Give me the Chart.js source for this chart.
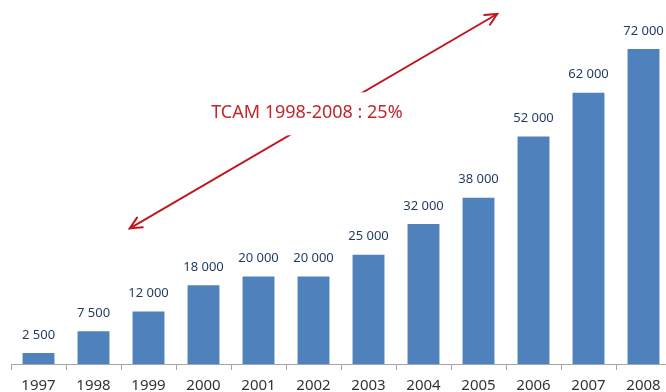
<!DOCTYPE html>
<html>
<head>
<meta charset="utf-8">
<script src="https://cdn.jsdelivr.net/npm/chart.js@4/dist/chart.umd.min.js"></script>
<style>
    html, body { margin: 0; padding: 0; background: #fff; overflow: hidden; }
    #wrap { position: relative; width: 672px; height: 392px; }
</style>
</head>
<body>
<div id="wrap"><canvas id="tcamChart"></canvas></div>
<script>
// Years and values
const years = ['1997', '1998', '1999', '2000', '2001', '2002', '2003', '2004', '2005', '2006', '2007', '2008'];
const values = [2500, 7500, 12000, 18000, 20000, 20000, 25000, 32000, 38000, 52000, 62000, 72000];

// Trend arrow, in data units (category index, value)
const arrowFrom = { x: 1.66, y: 31000 };
const arrowTo = { x: 8.34, y: 80000 };
const arrowText = 'TCAM 1998-2008 : 25%';
const arrowTextAt = { x: 4.88, y: 57300 };

// "2 500" style with a space as thousands separator
function formatValue(v) {
    return String(v).replace(/\B(?=(\d{3})+(?!\d))/g, ' ');
}

const fontFamily = "'Noto Sans', 'Open Sans', sans-serif";

// Value labels above each bar
const valueLabelPlugin = {
    id: 'valueLabels',
    afterDatasetsDraw(chart) {
        const ctx = chart.ctx;
        const meta = chart.getDatasetMeta(0);
        ctx.save();
        ctx.font = '13px ' + fontFamily;
        ctx.fillStyle = '#1F3A5F';
        ctx.textAlign = 'center';
        ctx.textBaseline = 'middle';
        meta.data.forEach((bar, i) => {
            ctx.fillText(formatValue(values[i]), bar.x, bar.y - 18);
        });
        ctx.restore();
    }
};

// Double-headed red arrow with the growth text (text sits on a white box cutting the line)
const trendArrowPlugin = {
    id: 'trendArrow',
    afterDraw(chart) {
        const ctx = chart.ctx;
        const xs = chart.scales.x, ys = chart.scales.y;
        const x1 = xs.getPixelForValue(arrowFrom.x), y1 = ys.getPixelForValue(arrowFrom.y);
        const x2 = xs.getPixelForValue(arrowTo.x), y2 = ys.getPixelForValue(arrowTo.y);
        ctx.save();
        ctx.strokeStyle = '#C0161E';
        ctx.lineWidth = 2;
        ctx.lineCap = 'round';
        ctx.beginPath();
        ctx.moveTo(x1, y1);
        ctx.lineTo(x2, y2);
        ctx.stroke();

        function head(tx, ty, fx, fy) {
            const ang = Math.atan2(ty - fy, tx - fx);
            const len = 13, spread = 0.45;
            ctx.beginPath();
            ctx.moveTo(tx - len * Math.cos(ang - spread), ty - len * Math.sin(ang - spread));
            ctx.lineTo(tx, ty);
            ctx.lineTo(tx - len * Math.cos(ang + spread), ty - len * Math.sin(ang + spread));
            ctx.stroke();
        }
        head(x1, y1, x2, y2);
        head(x2, y2, x1, y1);

        const tx = xs.getPixelForValue(arrowTextAt.x), ty = ys.getPixelForValue(arrowTextAt.y);
        ctx.font = '18px ' + fontFamily;
        const w = ctx.measureText(arrowText).width;
        ctx.fillStyle = '#ffffff';
        ctx.fillRect(tx - w / 2 - 10, ty - 21, w + 20, 43);
        ctx.fillStyle = '#C0272D';
        ctx.textAlign = 'center';
        ctx.textBaseline = 'middle';
        ctx.fillText(arrowText, tx, ty);
        ctx.restore();
    }
};

const ctx = document.getElementById('tcamChart').getContext('2d');
new Chart(ctx, {
    type: 'bar',
    data: {
        labels: years,
        datasets: [{
            data: values,
            backgroundColor: '#4F81BD',
            borderWidth: 0,
            categoryPercentage: 1,
            barPercentage: 0.58
        }]
    },
    options: {
        responsive: true,
        maintainAspectRatio: false,
        animation: false,
        layout: { padding: { left: 11, right: 1, top: 14, bottom: 0 } },
        plugins: {
            legend: { display: false },
            tooltip: { enabled: false }
        },
        scales: {
            x: {
                offset: true,
                // labels run off the bottom edge, as in the original
                afterFit: function(scale) { scale.height = 28; },
                grid: {
                    offset: true,
                    drawOnChartArea: false,
                    drawTicks: true,
                    tickLength: 6,
                    color: '#A6A6A6'
                },
                border: { display: true, color: '#A6A6A6', width: 1 },
                ticks: {
                    color: '#333333',
                    font: { family: fontFamily, size: 15 },
                    padding: 7,
                    maxRotation: 0,
                    autoSkip: false
                }
            },
            y: {
                display: false,
                min: 0,
                max: 80000
            }
        }
    },
    plugins: [valueLabelPlugin, trendArrowPlugin]
});
</script>
</body>
</html>
